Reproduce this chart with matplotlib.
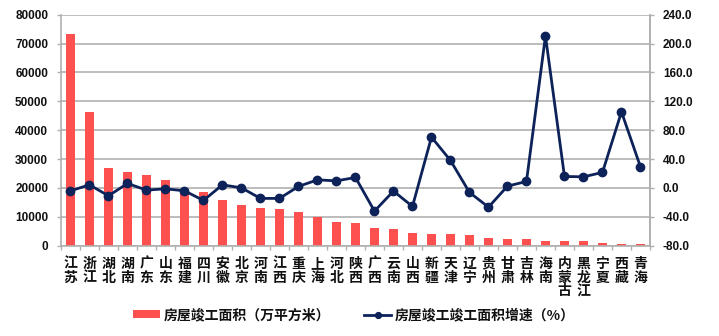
import matplotlib
matplotlib.use("Agg")
import matplotlib.pyplot as plt
import numpy as np

plt.rcParams['font.family'] = ['Noto Sans CJK SC', 'DejaVu Sans']

provinces = ['江苏', '浙江', '湖北', '湖南', '广东', '山东', '福建', '四川', '安徽', '北京',
             '河南', '江西', '重庆', '上海', '河北', '陕西', '广西', '云南', '山西', '新疆',
             '天津', '辽宁', '贵州', '甘肃', '吉林', '海南', '内蒙古', '黑龙江', '宁夏', '西藏', '青海']
area = [73200, 46400, 27000, 25600, 24400, 22850, 19600, 18500, 15700, 14100,
        12950, 12700, 11550, 9950, 8100, 8000, 6100, 5900, 4400, 4150,
        4050, 3700, 2650, 2300, 2300, 1750, 1600, 1550, 950, 550, 500]
growth = [-4.0, 4.3, -10.9, 6.2, -3.0, -1.2, -4.0, -17.3, 4.3, 0.1,
          -14.5, -14.5, 2.1, 11.2, 9.8, 14.5, -32.1, -4.4, -25.6, 70.4,
          38.1, -6.2, -26.6, 2.5, 9.0, 210.7, 15.9, 15.4, 21.5, 105.4, 29.2]

bar_color = '#ff5050'
line_color = '#0c2259'
grid_color = '#b0b0b0'
text_color = '#111111'
num_font = {'family': 'Liberation Sans', 'weight': 'bold', 'size': 8.5}

fig = plt.figure(figsize=(7.19, 3.36), dpi=100)
ax = fig.add_axes([0.0848, 0.2688, 0.8192, 0.6874])
x = np.arange(len(provinces))

ax.bar(x, area, width=0.46, color=bar_color, zorder=2)
ax.set_xlim(-0.5, len(provinces) - 0.5)
ax.set_ylim(0, 80000)
ax.set_yticks(np.arange(0, 80001, 10000))
ax.yaxis.grid(True, color=grid_color, linewidth=1.2, zorder=0)
ax.set_axisbelow(True)

# province names stacked one character per line
ax.set_xticks(x)
ax.set_xticklabels(['\n'.join(p) for p in provinces], fontsize=10, fontweight='bold',
                   color=text_color, linespacing=0.98, va='top')
ax.tick_params(axis='x', length=0, pad=8)
ax.set_xticks(np.arange(-0.5, len(provinces)), minor=True)
ax.tick_params(axis='x', which='minor', length=3, color=grid_color, width=1)
ax.tick_params(axis='y', length=3.2, color=grid_color, width=1, labelcolor=text_color, pad=6)
for lab in ax.get_yticklabels():
    lab.set_fontproperties(num_font)

ax.spines['top'].set_visible(False)
for s in ['left', 'right', 'bottom']:
    ax.spines[s].set_color(grid_color)
    ax.spines[s].set_linewidth(1.2)

ax2 = ax.twinx()
ax2.plot(x, growth, color=line_color, linewidth=2, marker='o', markersize=6, zorder=3)
ax2.set_ylim(-80, 240)
ax2.set_yticks(np.arange(-80, 241, 40))
ax2.set_yticklabels(['%.1f' % v for v in np.arange(-80, 241, 40)])
ax2.tick_params(axis='y', length=3.2, color=grid_color, width=1, labelcolor=text_color, pad=6)
for lab in ax2.get_yticklabels():
    lab.set_fontproperties(num_font)
for s in ['top', 'left', 'bottom']:
    ax2.spines[s].set_visible(False)
ax2.spines['right'].set_color(grid_color)
ax2.spines['right'].set_linewidth(1.2)

h1 = ax.patches[0]
h2, = ax2.get_lines()
fig.legend([h1, h2], ['房屋竣工面积（万平方米）', '房屋竣工竣工面积增速（%）'],
           loc='center', bbox_to_anchor=(0.492, 0.062), ncol=2, frameon=False,
           prop={'size': 10, 'weight': 'bold'}, handlelength=1.95, handleheight=0.55,
           columnspacing=2.45, handletextpad=0.25, labelcolor=text_color, markerscale=0.7)

fig.savefig('out.png', dpi=100)
